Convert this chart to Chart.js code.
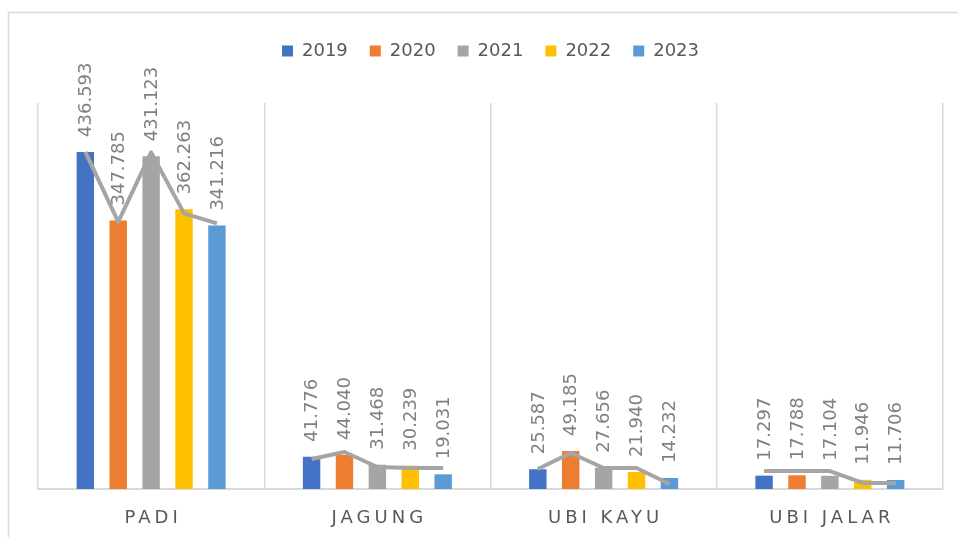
<!DOCTYPE html>
<html>
<head>
<meta charset="utf-8">
<script src="https://cdn.jsdelivr.net/npm/chart.js@4.4.0/dist/chart.umd.min.js"></script>
<style>
  html, body { margin: 0; padding: 0; background: #fff; }
  #wrap { width: 958px; height: 537px; }
</style>
</head>
<body>
<div id="wrap"><canvas id="myChart" width="958" height="537"></canvas></div>
<script>
let categories = ['PADI', 'JAGUNG', 'UBI KAYU', 'UBI JALAR'];
let years = ['2019', '2020', '2021', '2022', '2023'];
let v2019 = [436593, 41776, 25587, 17297];
let v2020 = [347785, 44040, 49185, 17788];
let v2021 = [431123, 31468, 27656, 17104];
let v2022 = [362263, 30239, 21940, 11946];
let v2023 = [341216, 19031, 14232, 11706];
let colors = ['#4472C4', '#ED7D31', '#A5A5A5', '#FFC000', '#5B9BD5'];

// grey line drawn over each group (one per year)
let linePadi = [436600, 346000, 436000, 357000, 344000];
let lineJagung = [38900, 47900, 28500, 27200, 27200];
let lineUbiKayu = [25900, 46600, 27200, 27200, 6500];
let lineUbiJalar = [23300, 23300, 23300, 7800, 7800];
let lineValues = [linePadi, lineJagung, lineUbiKayu, lineUbiJalar];

let seriesValues = [v2019, v2020, v2021, v2022, v2023];
let font = 'DejaVu Sans';

function fmt(n) {
  return String(n).replace(/\B(?=(\d{3})+(?!\d))/g, '.');
}

let extras = {
  id: 'extras',
  beforeInit(chart) {
    let fit = chart.legend.fit;
    chart.legend.fit = function () {
      fit.call(this);
      this.height = 83;
    };
  },
  beforeDraw(chart) {
    let ctx = chart.ctx;
    ctx.save();
    ctx.strokeStyle = '#d9d9d9';
    ctx.lineWidth = 1.5;
    ctx.strokeRect(8.5, 12.5, 1000, 600);
    ctx.restore();
  },
  afterDatasetsDraw(chart) {
    let ctx = chart.ctx;
    let y = chart.scales.y;
    let x = chart.scales.x;
    // connecting line per category
    ctx.save();
    ctx.strokeStyle = '#A5A5A5';
    ctx.lineWidth = 4;
    ctx.lineJoin = 'round';
    for (let i = 0; i < categories.length; i++) {
      ctx.beginPath();
      for (let j = 0; j < years.length; j++) {
        let bar = chart.getDatasetMeta(j).data[i];
        let py = y.getPixelForValue(lineValues[i][j]);
        if (j == 0) ctx.moveTo(bar.x, py); else ctx.lineTo(bar.x, py);
      }
      ctx.stroke();
    }
    ctx.restore();

    // rotated value labels
    ctx.save();
    ctx.fillStyle = '#808080';
    ctx.font = '18px "' + font + '"';
    ctx.textAlign = 'left';
    ctx.textBaseline = 'middle';
    for (let j = 0; j < years.length; j++) {
      let meta = chart.getDatasetMeta(j);
      meta.data.forEach(function (bar, i) {
        ctx.save();
        ctx.translate(bar.x, bar.y - 15);
        ctx.rotate(-Math.PI / 2);
        ctx.fillText(fmt(seriesValues[j][i]), 0, 1);
        ctx.restore();
      });
    }
    ctx.restore();

    // category labels with letter spacing
    ctx.save();
    ctx.fillStyle = '#595959';
    ctx.font = '18px "' + font + '"';
    ctx.letterSpacing = '4px';
    ctx.textAlign = 'center';
    ctx.textBaseline = 'alphabetic';
    categories.forEach(function (c, i) {
      ctx.fillText(c, x.getPixelForValue(i) + 2, 523);
    });
    ctx.restore();
  }
};

let myChart = document.getElementById('myChart').getContext('2d');
let chart = new Chart(myChart, {
  type: 'bar',
  data: {
    labels: categories,
    datasets: years.map(function (yr, j) {
      return {
        label: yr,
        data: seriesValues[j],
        backgroundColor: colors[j],
        categoryPercentage: 0.727,
        barPercentage: 0.53
      };
    })
  },
  options: {
    responsive: false,
    animation: false,
    layout: { padding: { left: 38, right: 15, top: 20, bottom: 48 } },
    plugins: {
      legend: {
        position: 'top',
        labels: {
          boxWidth: 11,
          boxHeight: 11,
          padding: 22,
          color: '#595959',
          font: { family: font, size: 18 }
        }
      },
      tooltip: { enabled: false }
    },
    scales: {
      x: {
        grid: { color: '#d9d9d9', lineWidth: 1.5, drawTicks: false, offset: true },
        border: { color: '#d9d9d9', width: 2 },
        ticks: { display: false }
      },
      y: {
        display: false,
        min: 0,
        max: 500000
      }
    }
  },
  plugins: [extras]
});
</script>
</body>
</html>
